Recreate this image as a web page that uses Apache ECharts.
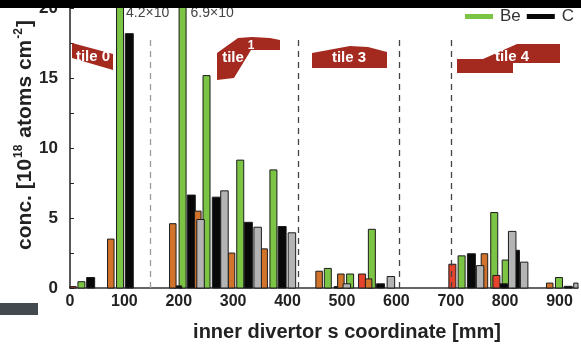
<!DOCTYPE html>
<html>
<head>
<meta charset="utf-8">
<script src="https://cdn.jsdelivr.net/npm/echarts@6/dist/echarts.min.js"></script>
<style>
html,body{margin:0;padding:0;background:#fff;}
#c{width:581px;height:350px;}
</style>
</head>
<body>
<div id="c"></div>
<script>
// ---- data (s coordinate [mm], concentration [1e18 atoms/cm2]) ----
var orangeX = [75, 189, 235, 297, 357, 458, 498, 549, 762, 882];
var orangeY = [3.5, 4.6, 5.5, 2.5, 2.8, 1.2, 1.0, 0.65, 2.45, 0.35];
var greenX  = [21, 92, 207, 251, 313, 374, 474, 515, 555, 720, 780, 801, 899];
var greenY  = [0.45, 42, 69, 15.2, 9.15, 8.45, 1.4, 1.0, 4.2, 2.3, 5.4, 2.0, 0.75];
var blackX  = [38, 109, 198, 223, 269, 328, 390, 493, 571, 738, 797, 819, 916];
var blackY  = [0.75, 18.2, 0.15, 6.65, 6.5, 4.7, 4.4, 0.1, 0.3, 2.45, 0.3, 2.7, 0.12];
var grayX   = [240, 284, 345, 408, 509, 590, 754, 813, 835, 933];
var grayY   = [4.9, 6.95, 4.35, 3.95, 0.3, 0.82, 1.6, 4.05, 1.85, 0.35];
var redX    = [5, 537, 703, 784];
var redY    = [0.1, 1.0, 1.7, 0.9];
var dividers = [148, 419, 606, 701];
var xTicks = [0, 100, 200, 300, 400, 500, 600, 700, 800, 900];
var yTicks = [0, 5, 10, 15, 20];
var overflowLabels = ['4.2×10', '6.9×10'];

function pairs(xs, ys){ return xs.map(function(x,i){ return [x, ys[i]]; }); }

function barRenderer(w, color){
  return function(params, api){
    var x = api.value(0), y = api.value(1);
    var top = api.coord([x, y]);
    var base = api.coord([x, 0]);
    var cs = params.coordSys;
    var r = echarts.graphic.clipRectByRect(
      {x: top[0] - w/2, y: top[1], width: w, height: base[1] - top[1]},
      {x: cs.x, y: cs.y - 2, width: cs.width, height: cs.height + 2}
    );
    if (!r) return null;
    return {type:'rect', shape:r, style:{fill:color, stroke:'#1c1c1c', lineWidth:1}};
  };
}

var C_OR = '#d2732b', C_GR = '#7cc444', C_BK = '#080808', C_GY = '#b4b4b4', C_RD = '#e5432c';

function barSeries(name, xs, ys, w, color){
  return {
    type:'custom', name:name, data:pairs(xs, ys),
    renderItem: barRenderer(w, color),
    itemStyle:{color:color}, encode:{x:0, y:1}, silent:true
  };
}

var chart = echarts.init(document.getElementById('c'), null, {renderer:'canvas'});
var tileColor = '#a42a20';
var fontF = '"Liberation Sans", Arial, sans-serif';

chart.setOption({
  animation:false,
  backgroundColor:'#fff',
  grid:{left:70, right:0, top:7, bottom:62, containLabel:false},
  legend:{
    type:'plain', orient:'horizontal',
    data:[{name:'Be', itemStyle:{color:C_GR}}, {name:'C', itemStyle:{color:C_BK}}],
    left:465, top:8, width:200, padding:0, icon:'rect', itemWidth:28, itemHeight:5, itemGap:6,
    textStyle:{fontFamily:fontF, fontSize:17, color:'#333', padding:[0,0,0,2]}
  },
  xAxis:{
    type:'value', min:0, max:934, interval:100,
    axisLine:{show:true, lineStyle:{color:'#333', width:1.5}},
    axisTick:{show:false},
    splitLine:{show:false},
    axisLabel:{
      margin:6, fontFamily:fontF, fontWeight:'bold', fontSize:16, color:'#222',
      formatter:function(v){ return xTicks.indexOf(v) >= 0 ? String(v) : ''; }
    }
  },
  yAxis:{
    type:'value', min:0, max:20, interval:2.5,
    axisLine:{show:true, lineStyle:{color:'#222', width:1.5}},
    axisTick:{show:true, inside:true, length:4, lineStyle:{color:'#222'}},
    splitLine:{show:false},
    axisLabel:{
      margin:12, fontFamily:fontF, fontWeight:'bold', fontSize:17, color:'#222',
      formatter:function(v){ return yTicks.indexOf(v) >= 0 ? String(v) : ''; }
    }
  },
  series:[
    {
      type:'line', data:[], silent:true,
      markLine:{
        silent:true, symbol:['none','none'], label:{show:false},
        data: dividers.map(function(d, i){
          return [{coord:[d, 0], lineStyle:{color: i===0 ? '#9a9a9a' : '#444', type:[6,5], width:1.3}},
                  {coord:[d, 18]}];
        })
      }
    },
    barSeries('Be', greenX, greenY, 7, C_GR),
    barSeries('C', blackX, blackY, 8, C_BK),
    barSeries('red', redX, redY, 7, C_RD),
    barSeries('orange', orangeX, orangeY, 6.5, C_OR),
    barSeries('gray', grayX, grayY, 7.5, C_GY)
  ]
});

// overlay decorations (tile sketches, labels, frame fragments)
var tileTextStyle = function(t, x, y){
  return {type:'text', z:110, style:{text:t, x:x, y:y, fill:'#fff', font:'bold 15px ' + fontF, align:'center', verticalAlign:'middle'}};
};
var xAt = function(v){ return chart.convertToPixel({gridIndex:0}, [v, 0])[0]; };

chart.setOption({
  graphic:[
    // tile 0
    {type:'polygon', z:100, shape:{points:[[72,43],[113,54],[113,70],[72,58]]}, style:{fill:tileColor}},
    tileTextStyle('tile 0', 93, 57),
    // tile 1
    {type:'polygon', z:100, shape:{points:[[217,53],[238,38],[252,37],[270,38],[280,40],[280,50],[251,50],[234,78],[217,80]]}, style:{fill:tileColor}},
    tileTextStyle('tile', 233, 58),
    {type:'text', z:110, style:{text:'1', x:251, y:46, fill:'#fff', font:'bold 12px ' + fontF, align:'center', verticalAlign:'middle'}},
    // tile 3
    {type:'polygon', z:100, shape:{points:[[312,53],[350,46],[368,47],[387,52],[387,68],[312,68]]}, style:{fill:tileColor}},
    tileTextStyle('tile 3', 349, 58),
    // tile 4
    {type:'polygon', z:100, shape:{points:[[457,59],[483,59],[517,44],[560,44],[560,63],[513,63],[513,73],[457,73]]}, style:{fill:tileColor}},
    tileTextStyle('tile 4', 512, 57),
    // overflow labels of clipped bars
    {type:'text', z:105, style:{text:overflowLabels[0], x:xAt(92)+6, y:13, fill:'#444', font:'14px ' + fontF, align:'left', verticalAlign:'middle'}},
    {type:'text', z:105, style:{text:overflowLabels[1], x:xAt(207)+8, y:13, fill:'#444', font:'14px ' + fontF, align:'left', verticalAlign:'middle'}},
    // y axis title
    {type:'text', z:105, x:25, y:135, rotation:Math.PI/2,
      style:{
        text:'{a|conc. [10}{s|18}{a| atoms cm}{s|-2}{a|]}',
        align:'center', verticalAlign:'middle',
        rich:{
          a:{font:'bold 21px ' + fontF, fill:'#222', lineHeight:24},
          s:{font:'bold 12px ' + fontF, fill:'#222', lineHeight:24, verticalAlign:'top', padding:[0,1,10,1]}
        }
      }
    },
    // x axis title
    {type:'text', z:105, style:{text:'inner divertor s coordinate [mm]', x:347, y:332, fill:'#222', font:'bold 20px ' + fontF, align:'center', verticalAlign:'middle'}},
    // top black band
    {type:'rect', z:120, shape:{x:0, y:0, width:581, height:8}, style:{fill:'#000'}},
    // bottom-left dark block
    {type:'rect', z:120, shape:{x:0, y:303, width:38, height:12}, style:{fill:'#434a4f'}}
  ]
});
</script>
</body>
</html>
